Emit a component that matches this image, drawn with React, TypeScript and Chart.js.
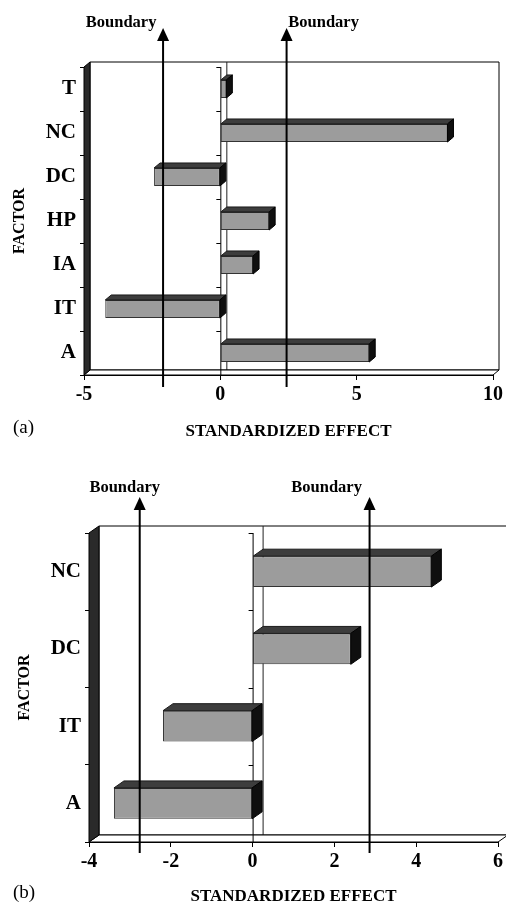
import React, { useEffect, useRef } from 'react';
import { Chart, registerables } from 'chart.js';

Chart.register(...registerables);

// ---------- data ----------
const FACTORS_A = ['T', 'NC', 'DC', 'HP', 'IA', 'IT', 'A'];
const EFFECT_A = [0.22, 8.33, -2.43, 1.79, 1.2, -4.22, 5.46];
const BOUNDARY_A = [-2.1, 2.43];
const X_RANGE_A = [-5, 10];
const X_STEP_A = 5;

const FACTORS_B = ['NC', 'DC', 'IT', 'A'];
const EFFECT_B = [4.37, 2.4, -2.19, -3.39];
const BOUNDARY_B = [-2.76, 2.86];
const X_RANGE_B = [-4, 6];
const X_STEP_B = 2;

const X_TITLE = 'STANDARDIZED EFFECT';
const Y_TITLE = 'FACTOR';
const BOUNDARY_TEXT = 'Boundary';

const SERIF = '"Liberation Serif", "DejaVu Serif", "Times New Roman", serif';

type Panel = {
  labels: string[];
  values: number[];
  boundaries: number[];
  range: number[];
  step: number;
  tag: string;
  height: number;
  area: { left: number; right: number; top: number; bottom: number };
  depth: { dx: number; dy: number };
  barFrac: number;
  xAxisH: number;
  yTitlePad: number;
  xTitlePadBottom: number;
  arrowTop: number;
  arrowBottom: number;
  bLabelY: number;
  bLabelDx: number[];
  tagY: number;
};

const PANEL_A: Panel = {
  labels: FACTORS_A,
  values: EFFECT_A,
  boundaries: BOUNDARY_A,
  range: X_RANGE_A,
  step: X_STEP_A,
  tag: '(a)',
  height: 450,
  area: { left: 84, right: 493, top: 67, bottom: 375 },
  depth: { dx: 6, dy: 5 },
  barFrac: 0.41,
  xAxisH: 66,
  yTitlePad: 12,
  xTitlePadBottom: 0.5,
  arrowTop: 28,
  arrowBottom: 387,
  bLabelY: 23,
  bLabelDx: [-42, 37],
  tagY: 428,
};

const PANEL_B: Panel = {
  labels: FACTORS_B,
  values: EFFECT_B,
  boundaries: BOUNDARY_B,
  range: X_RANGE_B,
  step: X_STEP_B,
  tag: '(b)',
  height: 455,
  area: { left: 89, right: 500, top: 83, bottom: 392 },
  depth: { dx: 10, dy: 7 },
  barFrac: 0.4,
  xAxisH: 63,
  yTitlePad: 17,
  xTitlePadBottom: 0,
  arrowTop: 47,
  arrowBottom: 403,
  bLabelY: 38,
  bLabelDx: [-15, -43],
  tagY: 443,
};

const WIDTH = 506;

function poly(ctx: CanvasRenderingContext2D, pts: number[][], fill: string | null, stroke: string | null, lw = 1) {
  ctx.beginPath();
  ctx.moveTo(pts[0][0], pts[0][1]);
  for (let i = 1; i < pts.length; i++) ctx.lineTo(pts[i][0], pts[i][1]);
  ctx.closePath();
  if (fill) {
    ctx.fillStyle = fill;
    ctx.fill();
  }
  if (stroke) {
    ctx.strokeStyle = stroke;
    ctx.lineWidth = lw;
    ctx.stroke();
  }
}

function makeChart(canvas: HTMLCanvasElement, p: Panel) {
  const { dx, dy } = p.depth;
  const deco = {
    id: 'deco3d',
    beforeDatasetsDraw(chart: any) {
      const ctx: CanvasRenderingContext2D = chart.ctx;
      const { left, right, top, bottom } = chart.chartArea;
      const xs = chart.scales.x;
      ctx.save();
      // back wall
      poly(ctx, [[left + dx, top - dy], [right + dx, top - dy], [right + dx, bottom - dy], [left + dx, bottom - dy]], '#ffffff', '#000000', 1);
      // back zero line
      const z = xs.getPixelForValue(0);
      ctx.beginPath();
      ctx.moveTo(z + dx + 0.5, top - dy);
      ctx.lineTo(z + dx + 0.5, bottom - dy);
      ctx.strokeStyle = '#222';
      ctx.lineWidth = 1;
      ctx.stroke();
      // floor
      poly(ctx, [[left, bottom], [right, bottom], [right + dx, bottom - dy], [left + dx, bottom - dy]], '#ffffff', '#000000', 1);
      // left dark wall
      poly(ctx, [[left, top], [left + dx, top - dy], [left + dx, bottom - dy], [left, bottom]], '#2a2a2a', '#000000', 1);
      // front zero line with ticks
      ctx.beginPath();
      ctx.moveTo(z + 0.5, top);
      ctx.lineTo(z + 0.5, bottom);
      const n = p.labels.length;
      const step = (bottom - top) / n;
      for (let k = 0; k <= n; k++) {
        const yy = Math.round(top + k * step) + 0.5;
        ctx.moveTo(z - 4, yy);
        ctx.lineTo(z + 0.5, yy);
      }
      ctx.strokeStyle = '#000';
      ctx.lineWidth = 1;
      ctx.stroke();
      ctx.restore();
    },
    afterDatasetsDraw(chart: any) {
      const ctx: CanvasRenderingContext2D = chart.ctx;
      const meta = chart.getDatasetMeta(0);
      ctx.save();
      meta.data.forEach((bar: any) => {
        const { x, y, base, height } = bar.getProps(['x', 'y', 'base', 'height'], true);
        const l = Math.min(x, base);
        const r = Math.max(x, base);
        const t = y - height / 2;
        const b = y + height / 2;
        poly(ctx, [[l, t], [l + dx, t - dy], [r + dx, t - dy], [r, t]], '#3d3d3d', '#1a1a1a', 1);
        poly(ctx, [[r, t], [r + dx, t - dy], [r + dx, b - dy], [r, b]], '#0f0f0f', '#000', 1);
      });
      ctx.restore();
    },
    afterDraw(chart: any) {
      const ctx: CanvasRenderingContext2D = chart.ctx;
      const xs = chart.scales.x;
      ctx.save();
      p.boundaries.forEach((v, i) => {
        const px = xs.getPixelForValue(v);
        ctx.beginPath();
        ctx.moveTo(px, p.arrowBottom);
        ctx.lineTo(px, p.arrowTop + 10);
        ctx.strokeStyle = '#000';
        ctx.lineWidth = 2;
        ctx.stroke();
        poly(ctx, [[px, p.arrowTop], [px - 6, p.arrowTop + 13], [px + 6, p.arrowTop + 13]], '#000', null);
        ctx.fillStyle = '#000';
        ctx.font = `bold 16.5px ${SERIF}`;
        ctx.textAlign = 'center';
        ctx.textBaseline = 'middle';
        ctx.fillText(BOUNDARY_TEXT, px + p.bLabelDx[i], p.bLabelY);
      });
      ctx.font = `19px ${SERIF}`;
      ctx.textAlign = 'left';
      ctx.textBaseline = 'middle';
      ctx.fillStyle = '#000';
      ctx.fillText(p.tag, 13, p.tagY);
      ctx.restore();
    },
  };

  return new Chart(canvas, {
    type: 'bar',
    data: {
      labels: p.labels,
      datasets: [
        {
          data: p.values,
          backgroundColor: '#9c9c9c',
          borderColor: '#333333',
          borderWidth: 1,
          borderSkipped: false,
          barPercentage: p.barFrac,
          categoryPercentage: 1,
        },
      ],
    },
    options: {
      indexAxis: 'y',
      responsive: false,
      animation: false,
      devicePixelRatio: 1,
      events: [],
      layout: {
        padding: {
          left: 0,
          top: p.area.top,
          right: WIDTH - p.area.right,
          bottom: p.height - p.area.bottom - p.xAxisH,
        },
      },
      plugins: {
        legend: { display: false },
        tooltip: { enabled: false },
        title: { display: false },
      },
      scales: {
        x: {
          type: 'linear',
          min: p.range[0],
          max: p.range[1],
          ticks: {
            stepSize: p.step,
            color: '#000',
            font: { family: SERIF, size: 20, weight: 'bold' },
            padding: 3,
            maxRotation: 0,
            minRotation: 0,
          },
          grid: { drawOnChartArea: false, drawTicks: true, tickLength: 5, color: '#000' },
          border: { display: true, color: '#000', width: 1 },
          title: {
            display: true,
            text: X_TITLE,
            color: '#000',
            font: { family: SERIF, size: 17, weight: 'bold', lineHeight: 1 },
            padding: { top: 0, bottom: p.xTitlePadBottom },
          },
          afterFit: (s: any) => {
            s.height = p.xAxisH;
          },
        },
        y: {
          type: 'category',
          ticks: {
            color: '#000',
            font: { family: SERIF, size: 21, weight: 'bold' },
            padding: 4,
          },
          grid: { offset: true, drawOnChartArea: false, drawTicks: true, tickLength: 4, color: '#000' },
          border: { display: true, color: '#000', width: 1 },
          title: {
            display: true,
            text: Y_TITLE,
            color: '#000',
            font: { family: SERIF, size: 16, weight: 'bold', lineHeight: 1 },
            padding: { top: p.yTitlePad, bottom: 0 },
          },
          afterFit: (s: any) => {
            s.width = p.area.left;
          },
        },
      },
    },
    plugins: [deco],
  } as any);
}

function PanelChart({ panel }: { panel: Panel }) {
  const ref = useRef<HTMLCanvasElement | null>(null);
  useEffect(() => {
    if (!ref.current) return;
    const chart = makeChart(ref.current, panel);
    return () => chart.destroy();
  }, [panel]);
  return (
    <canvas
      ref={ref}
      width={WIDTH}
      height={panel.height}
      style={{ display: 'block', width: WIDTH, height: panel.height }}
    />
  );
}

export default function App() {
  return (
    <div style={{ position: 'absolute', left: 0, top: 0, width: WIDTH, height: 905, background: '#fff' }}>
      <PanelChart panel={PANEL_A} />
      <PanelChart panel={PANEL_B} />
    </div>
  );
}
